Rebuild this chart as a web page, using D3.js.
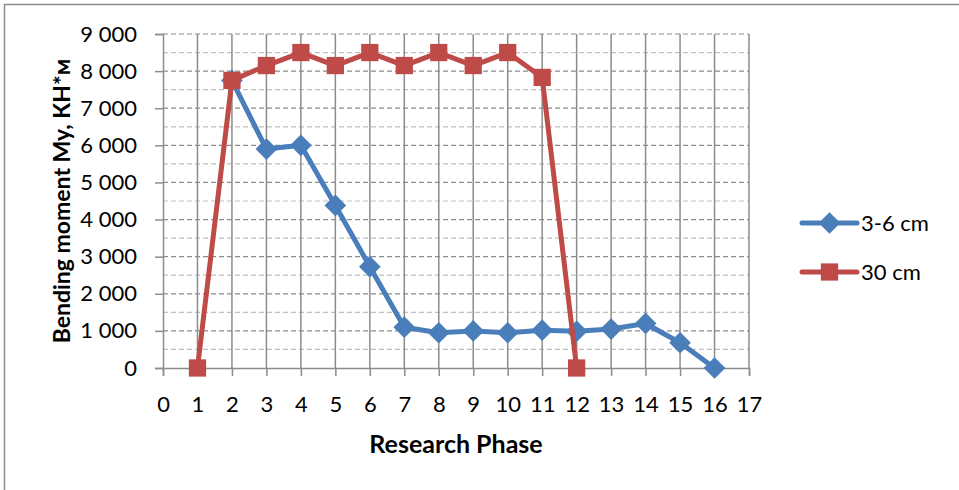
<!DOCTYPE html>
<html>
<head>
    <meta charset="utf-8">
    <script src="https://d3js.org/d3.v7.min.js"></script>
    <style>
        body { margin: 0; background: #fff; }
        svg text { font-family: Lato, "Open Sans", sans-serif; fill: #000; }
    </style>
</head>
<body>
    <div id="my_dataviz"></div>
    <script>
        // data
        var phases36 = [2, 3, 4, 5, 6, 7, 8, 9, 10, 11, 12, 13, 14, 15, 16];
        var values36 = [7750, 5900, 6000, 4380, 2730, 1100, 950, 1000, 950, 1020, 990, 1050, 1200, 680, 0];
        var phases30 = [1, 2, 3, 4, 5, 6, 7, 8, 9, 10, 11, 12];
        var values30 = [0, 7750, 8150, 8500, 8150, 8500, 8150, 8500, 8150, 8500, 7830, 0];
        var seriesNames = ["3-6 cm", "30 cm"];
        var xTicks = d3.range(0, 18);
        var yTicks = d3.range(0, 9001, 1000);
        var yMinorTicks = d3.range(500, 9000, 1000);

        var W = 959, H = 490;
        var margin = { top: 34, left: 163, right: 210, bottom: 122 };

        var svg = d3.select("#my_dataviz").append("svg")
            .attr("width", W).attr("height", H);

        // outer chart frame (runs off the right and bottom)
        svg.append("rect")
            .attr("x", 4.5).attr("y", 4.5)
            .attr("width", W + 10).attr("height", H + 10)
            .attr("fill", "none").attr("stroke", "#8c8c8c").attr("stroke-width", 1.5);

        var x = d3.scaleLinear().domain([0, 17]).range([margin.left, W - margin.right]);
        var y = d3.scaleLinear().domain([0, 9000]).range([H - margin.bottom, margin.top]);

        var g = svg.append("g");

        // minor horizontal grid
        g.selectAll("line.minor").data(yMinorTicks).enter().append("line")
            .attr("class", "minor")
            .attr("x1", x(0)).attr("x2", x(17))
            .attr("y1", function (d) { return y(d); }).attr("y2", function (d) { return y(d); })
            .attr("stroke", "#bfbfbf").attr("stroke-width", 1.2).attr("stroke-dasharray", "5,3");

        // major horizontal grid
        g.selectAll("line.major").data(yTicks.slice(1)).enter().append("line")
            .attr("class", "major")
            .attr("x1", x(0)).attr("x2", x(17))
            .attr("y1", function (d) { return y(d); }).attr("y2", function (d) { return y(d); })
            .attr("stroke", "#8c8c8c").attr("stroke-width", 1.2).attr("stroke-dasharray", "5,3");

        // vertical grid
        g.selectAll("line.vgrid").data(xTicks.slice(1)).enter().append("line")
            .attr("class", "vgrid")
            .attr("x1", function (d) { return x(d); }).attr("x2", function (d) { return x(d); })
            .attr("y1", y(9000)).attr("y2", y(0))
            .attr("stroke", "#8c8c8c").attr("stroke-width", 1.5);

        // axes
        var xAxis = svg.append("g")
            .attr("transform", "translate(0," + y(0) + ")")
            .call(d3.axisBottom(x).tickValues(xTicks).tickSize(8).tickPadding(20).tickFormat(d3.format("d")));
        var yAxis = svg.append("g")
            .attr("transform", "translate(" + x(0) + ",0)")
            .call(d3.axisLeft(y).tickValues(yTicks).tickSize(8).tickPadding(18)
                .tickFormat(function (d) { return d3.format(",")(d).replace(",", " "); }));
        [xAxis, yAxis].forEach(function (a) {
            a.select(".domain").attr("stroke", "#8c8c8c").attr("stroke-width", 1.5);
            a.selectAll(".tick line").attr("stroke", "#8c8c8c").attr("stroke-width", 1.5);
            a.selectAll(".tick text").style("font-size", "22px").attr("fill", "#000");
        });

        // axis titles
        svg.append("text")
            .attr("x", x(8.5)).attr("y", 453)
            .attr("text-anchor", "middle")
            .style("font-size", "25px").style("font-weight", "bold")
            .text("Research Phase");
        svg.append("text")
            .attr("transform", "translate(70," + y(4500) + ") rotate(-90)")
            .attr("text-anchor", "middle")
            .style("font-size", "23px").style("font-weight", "bold")
            .text("Bending moment My, КН*м");

        var line = d3.line()
            .x(function (d) { return x(d[0]); })
            .y(function (d) { return y(d[1]); });

        var blue = "#4a7ebb", red = "#be4b48";
        var data36 = phases36.map(function (p, i) { return [p, values36[i]]; });
        var data30 = phases30.map(function (p, i) { return [p, values30[i]]; });

        var diamond = d3.symbol().type(d3.symbolDiamond2).size(300);
        var square = d3.symbol().type(d3.symbolSquare2).size(380);

        // 3-6 cm
        svg.append("path").datum(data36)
            .attr("fill", "none").attr("stroke", blue).attr("stroke-width", 5)
            .attr("stroke-linejoin", "round")
            .attr("d", line);
        svg.selectAll("path.dia").data(data36).enter().append("path")
            .attr("class", "dia")
            .attr("transform", function (d) { return "translate(" + x(d[0]) + "," + y(d[1]) + ")"; })
            .attr("d", diamond).attr("fill", blue);

        // 30 cm
        svg.append("path").datum(data30)
            .attr("fill", "none").attr("stroke", red).attr("stroke-width", 5)
            .attr("stroke-linejoin", "round")
            .attr("d", line);
        svg.selectAll("path.sq").data(data30).enter().append("path")
            .attr("class", "sq")
            .attr("transform", function (d) { return "translate(" + x(d[0]) + "," + y(d[1]) + ")"; })
            .attr("d", square).attr("fill", red);

        // legend
        var legend = svg.append("g").attr("transform", "translate(802,223)");
        [[blue, diamond], [red, square]].forEach(function (s, i) {
            var row = legend.append("g").attr("transform", "translate(0," + (i * 49) + ")");
            row.append("line").attr("x1", 0).attr("x2", 55)
                .attr("stroke", s[0]).attr("stroke-width", 5).attr("stroke-linecap", "round");
            row.append("path").attr("transform", "translate(27.5,0)")
                .attr("d", s[1]).attr("fill", s[0]);
            row.append("text").attr("x", 59).attr("dy", "0.35em")
                .style("font-size", "22px").text(seriesNames[i]);
        });
    </script>
</body>
</html>
